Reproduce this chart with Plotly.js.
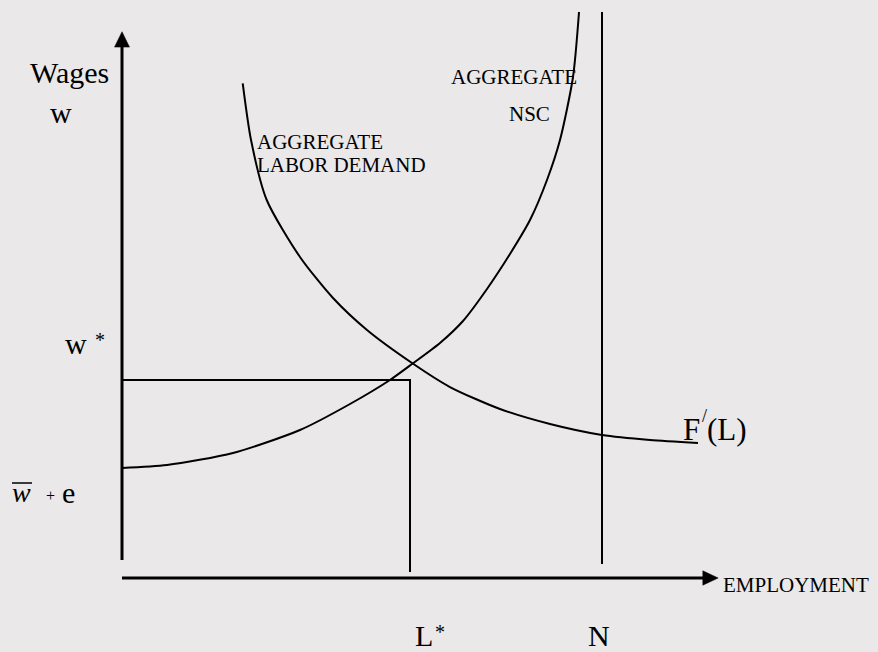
<!DOCTYPE html>
<html>
<head>
<meta charset="utf-8">
<script src="https://cdn.plot.ly/plotly-3.0.1.min.js"></script>
<style>html,body{margin:0;padding:0;background:#eae8e9;}#chart{width:878px;height:652px;}</style>
</head>
<body>
<div id="chart"></div>
<script>
// Aggregate no-shirking condition (NSC): employment vs wage
const nscEmployment = [0, 9.38, 23.13, 37.08, 47.5, 55.83, 60.42, 66.25, 71.04, 76.04, 80.83, 85.0, 88.54, 91.25, 93.96, 95.21];
const nscWage       = [22.92, 23.54, 26.04, 30.83, 36.25, 41.25, 44.58, 48.96, 53.54, 60.21, 67.5, 74.58, 82.92, 91.25, 104.38, 117.92];

// Aggregate labor demand F'(L)
const demandEmployment = [25.15, 26.88, 30.15, 37.08, 43.96, 51.04, 60.42, 68.33, 78.75, 89.17, 100.0, 110.0, 120.0];
const demandWage       = [103.06, 91.25, 78.75, 66.88, 58.33, 51.67, 44.79, 39.79, 35.21, 32.08, 29.79, 28.75, 28.13];

// Key levels
const lStar = 60;          // equilibrium employment L*
const wStar = 41.25;       // equilibrium wage w*
const lStarBottom = 1.25;  // where the L* drop line stops
const laborForce = 100;    // N
const laborForceRange = [2.9, 117.9];

// Axes extents (data units)
const yAxisRange = [3.75, 111.0];
const yArrow = {base: 110.6, tip: 113.8, half: 1.56};
const xAxisRange = [0, 121.5];
const xArrow = {base: 121.0, tip: 124.2, half: 1.5};

const black = '#000000';
const serif = '"Liberation Serif", "Times New Roman", serif';

const traces = [
  {x: [0, 0], y: yAxisRange, mode: 'lines', line: {color: black, width: 3}},
  {x: [-yArrow.half, yArrow.half, 0, -yArrow.half], y: [yArrow.base, yArrow.base, yArrow.tip, yArrow.base],
   mode: 'lines', fill: 'toself', fillcolor: black, line: {color: black, width: 0.5}},
  {x: xAxisRange, y: [0, 0], mode: 'lines', line: {color: black, width: 3}},
  {x: [xArrow.base, xArrow.base, xArrow.tip, xArrow.base], y: [-xArrow.half, xArrow.half, 0, -xArrow.half],
   mode: 'lines', fill: 'toself', fillcolor: black, line: {color: black, width: 0.5}},
  {x: nscEmployment, y: nscWage, mode: 'lines', line: {color: black, width: 2, shape: 'spline', smoothing: 0.7}},
  {x: demandEmployment, y: demandWage, mode: 'lines', line: {color: black, width: 2, shape: 'spline', smoothing: 0.7}},
  {x: [0, lStar, lStar], y: [wStar, wStar, lStarBottom], mode: 'lines', line: {color: black, width: 2}},
  {x: [laborForce, laborForce], y: laborForceRange, mode: 'lines', line: {color: black, width: 2}}
];

const W = 878, H = 652;
function ann(text, px, py, size, opts) {
  return Object.assign({
    text: text, xref: 'paper', yref: 'paper', x: px / W, y: 1 - py / H,
    xanchor: 'left', yanchor: 'middle', showarrow: false, borderpad: 0,
    font: {family: serif, size: size, color: black}
  }, opts || {});
}

const annotations = [
  ann('Wages', 29, 72.5, 30),
  ann('w', 49, 112, 30),
  ann('w', 64, 344, 30),
  ann('*', 100, 340, 20, {xanchor: 'center'}),
  ann('<i>w</i>', 11, 492.5, 28),
  ann('+', 50, 495.5, 16, {xanchor: 'center'}),
  ann('e', 61, 492, 30),
  ann('AGGREGATE', 256, 141.7, 21),
  ann('LABOR DEMAND', 256, 165, 21),
  ann('AGGREGATE', 450, 77, 21),
  ann('NSC', 508, 114, 21),
  ann('EMPLOYMENT', 722, 584.5, 21),
  ann('L', 414, 635.5, 30),
  ann('*', 440, 632, 20, {xanchor: 'center'}),
  ann('N', 587, 635.5, 30),
  ann('F', 682, 429, 31),
  ann('/', 704, 416, 18, {xanchor: 'center'}),
  ann('(L)', 706, 429, 31)
];

const layout = {
  width: W, height: H,
  margin: {l: 0, r: 0, t: 0, b: 0, pad: 0},
  paper_bgcolor: '#eae8e9', plot_bgcolor: '#eae8e9',
  showlegend: false, hovermode: false,
  xaxis: {range: [-25.4167, 157.5], visible: false, fixedrange: true},
  yaxis: {range: [-15.4167, 120.4167], visible: false, fixedrange: true},
  annotations: annotations,
  shapes: [
    {type: 'line', xref: 'paper', yref: 'paper', x0: 12 / W, x1: 32 / W, y0: 1 - 483 / H, y1: 1 - 483 / H,
     line: {color: black, width: 1.5}}
  ]
};

Plotly.newPlot('chart', traces, layout, {staticPlot: true, displayModeBar: false});
</script>
</body>
</html>
